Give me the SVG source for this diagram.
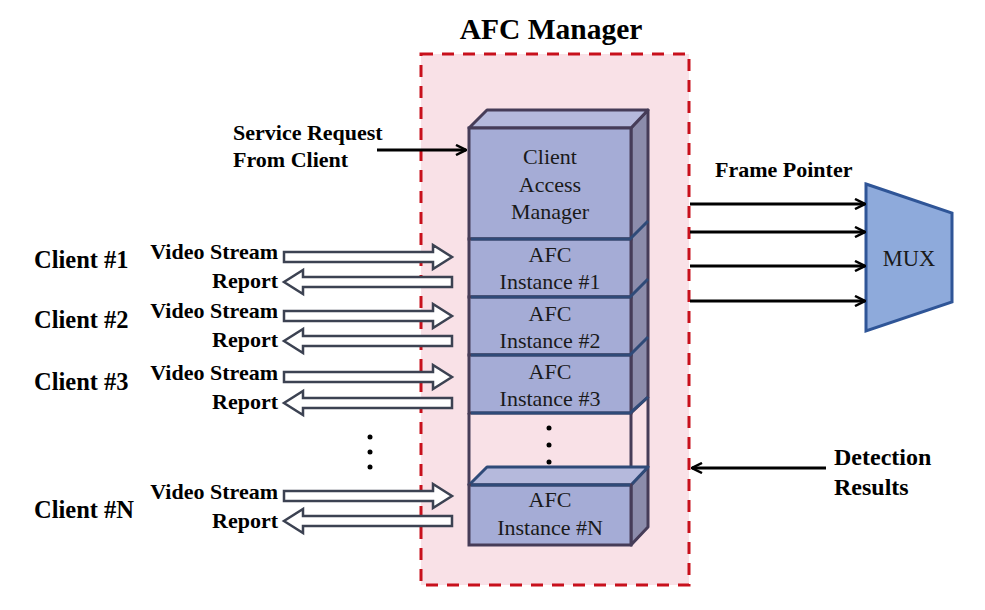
<svg xmlns="http://www.w3.org/2000/svg" width="985" height="610" viewBox="0 0 985 610">
<defs>
<style>
.b{font-family:"Liberation Serif",serif;font-weight:bold;fill:#000}
.s{font-family:"Liberation Serif",serif;font-size:22px;fill:#1a1a1a;text-anchor:middle}
.front{fill:#a5acd6;stroke:#463c58;stroke-width:3}
.top{fill:#b5b9dc;stroke:#463c58;stroke-width:3;stroke-linejoin:round}
.side{fill:#8c8cab;stroke:#463c58;stroke-width:3;stroke-linejoin:round}
.div{stroke:#2f4a78;stroke-width:3;fill:none}
.ha{fill:#fff;stroke:#3c4252;stroke-width:2.5;stroke-linejoin:miter}
.ln{stroke:#000;stroke-width:3;fill:none}
</style>
<marker id="chev" viewBox="0 0 12 12" refX="11" refY="6" markerWidth="12" markerHeight="12" markerUnits="userSpaceOnUse" orient="auto">
<path d="M1,1 L11,6 L1,11" fill="none" stroke="#000" stroke-width="2.5"/>
</marker>
<g id="vs"><path class="ha" d="M284,-5 H433 V-12 L452,0 L433,12 V5 H284 Z"/></g>
<g id="rp"><path class="ha" d="M452,-5 H303 V-12 L284,0 L303,12 V5 H452 Z"/></g>
</defs>
<rect width="985" height="610" fill="#fff"/>

<g id="afc-manager">
<rect x="421" y="54" width="268" height="531" fill="#f9e1e7" stroke="#c8101c" stroke-width="3" stroke-dasharray="12,9"/>
<text class="b" x="551" y="39" font-size="29.5" text-anchor="middle">AFC Manager</text>
</g>

<g id="stack">
<polygon class="side" points="631,128 648,110 648,397 631,413"/>
<polygon class="top" points="469,128 487,110 648,110 631,128"/>
<line x1="648" y1="397" x2="648" y2="467" stroke="#463c58" stroke-width="3"/>
<line x1="469" y1="413" x2="469" y2="485" stroke="#463c58" stroke-width="3"/>
<line x1="631" y1="413" x2="631" y2="485" stroke="#463c58" stroke-width="3"/>
</g>

<g id="client-access-manager">
<rect class="front" x="469" y="128" width="162" height="111"/>
<text class="s" x="550" y="164">Client</text>
<text class="s" x="550" y="192">Access</text>
<text class="s" x="550" y="219">Manager</text>
</g>
<g id="afc1">
<rect class="front" x="469" y="239" width="162" height="58"/>
<text class="s" x="550" y="262">AFC</text>
<text class="s" x="550" y="289">Instance #1</text>
</g>
<g id="afc2">
<rect class="front" x="469" y="297" width="162" height="58"/>
<text class="s" x="550" y="321">AFC</text>
<text class="s" x="550" y="348">Instance #2</text>
</g>
<g id="afc3">
<rect class="front" x="469" y="355" width="162" height="58"/>
<text class="s" x="550" y="379">AFC</text>
<text class="s" x="550" y="406">Instance #3</text>
</g>
<g id="dividers">
<path class="div" d="M471,239 H630 L648,221 M471,297 H630 L648,279 M471,355 H630 L648,337 M471,413 H630 L648,397"/>
</g>
<g id="stack-dots" fill="#000">
<circle cx="549" cy="428" r="2.5"/><circle cx="549" cy="445" r="2.5"/><circle cx="549" cy="462" r="2.5"/>
</g>
<g id="afcN">
<polygon class="side" points="631,485 648,467 648,527 631,545"/>
<polygon points="469,485 487,467 648,467 631,485" fill="#b5b9dc" stroke="#2f4a78" stroke-width="3" stroke-linejoin="round"/>
<rect class="front" x="469" y="485" width="162" height="60"/>
<line x1="471" y1="485" x2="630" y2="485" class="div"/>
<text class="s" x="550" y="507">AFC</text>
<text class="s" x="550" y="535">Instance #N</text>
</g>

<g id="mux">
<polygon points="866,184 952,213 952,302 866,331" fill="#8eaadb" stroke="#2f5597" stroke-width="3" stroke-linejoin="miter"/>
<text x="909" y="266" font-family="'Liberation Serif',serif" font-size="22.5" text-anchor="middle" fill="#1a1a1a">MUX</text>
</g>

<g id="labels">
<text class="b" x="233" y="140" font-size="22">Service Request</text>
<text class="b" x="233" y="167" font-size="22">From Client</text>
<text class="b" x="715" y="177" font-size="22">Frame Pointer</text>
<text class="b" x="834" y="465" font-size="24">Detection</text>
<text class="b" x="834" y="495" font-size="24">Results</text>
</g>

<g id="client1">
<text class="b" x="34" y="268" font-size="24.5">Client #1</text>
<text class="b" x="278" y="259" font-size="22" text-anchor="end">Video Stream</text>
<text class="b" x="278" y="288" font-size="22" text-anchor="end">Report</text>
</g>
<g id="client2">
<text class="b" x="34" y="328" font-size="24.5">Client #2</text>
<text class="b" x="278" y="318" font-size="22" text-anchor="end">Video Stream</text>
<text class="b" x="278" y="347" font-size="22" text-anchor="end">Report</text>
</g>
<g id="client3">
<text class="b" x="34" y="390" font-size="24.5">Client #3</text>
<text class="b" x="278" y="380" font-size="22" text-anchor="end">Video Stream</text>
<text class="b" x="278" y="409" font-size="22" text-anchor="end">Report</text>
</g>
<g id="clientN">
<text class="b" x="34" y="518" font-size="24.5">Client #N</text>
<text class="b" x="278" y="499" font-size="22" text-anchor="end">Video Stream</text>
<text class="b" x="278" y="528" font-size="22" text-anchor="end">Report</text>
</g>
<g id="client-dots" fill="#000">
<circle cx="370" cy="437" r="2.5"/><circle cx="370" cy="452" r="2.5"/><circle cx="370" cy="467" r="2.5"/>
</g>

<g id="connectors">
<use href="#vs" y="257"/><use href="#rp" y="282"/>
<use href="#vs" y="316"/><use href="#rp" y="341"/>
<use href="#vs" y="377"/><use href="#rp" y="403"/>
<use href="#vs" y="496"/><use href="#rp" y="521"/>
<line class="ln" x1="377" y1="150" x2="466" y2="150" marker-end="url(#chev)"/>
<line class="ln" x1="690" y1="204" x2="865" y2="204" marker-end="url(#chev)"/>
<line class="ln" x1="690" y1="232" x2="865" y2="232" marker-end="url(#chev)"/>
<line class="ln" x1="690" y1="266" x2="865" y2="266" marker-end="url(#chev)"/>
<line class="ln" x1="690" y1="301" x2="865" y2="301" marker-end="url(#chev)"/>
<line class="ln" x1="826" y1="468" x2="692" y2="468" marker-end="url(#chev)"/>
</g>
</svg>
